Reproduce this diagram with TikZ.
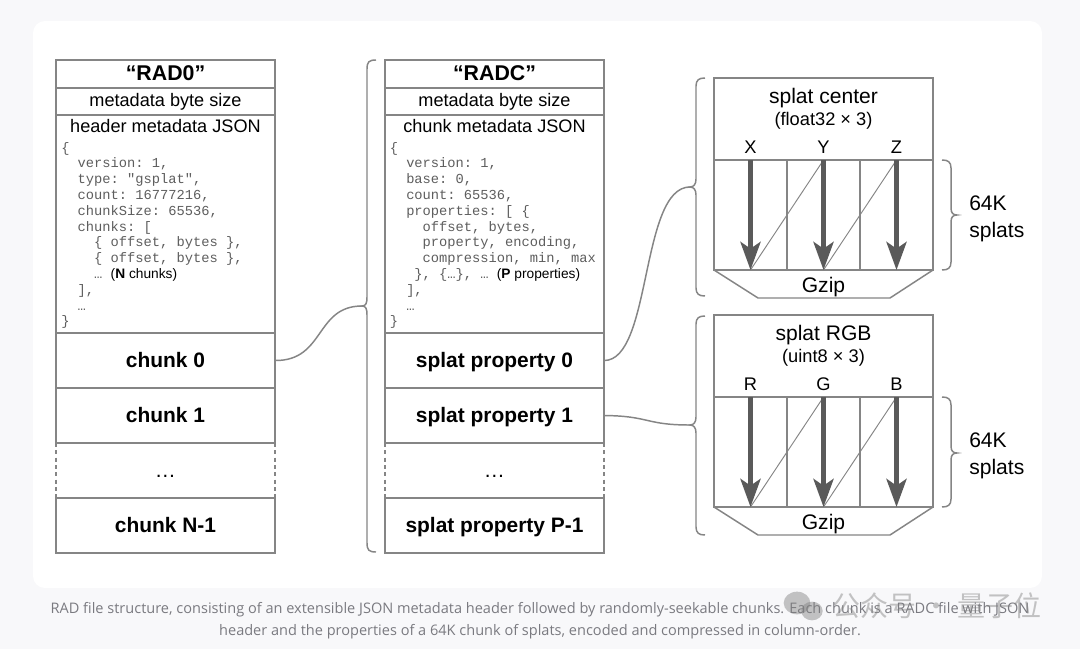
\documentclass[tikz,border=0pt]{standalone}
\usepackage{fontspec}
\setmainfont{Liberation Sans}
\setmonofont{Liberation Mono}
\newfontfamily\capfont{Open Sans}
\newfontfamily\cjkfont{Noto Sans CJK SC}
\usetikzlibrary{arrows.meta}
\definecolor{bgout}{HTML}{F8F8FA}
\definecolor{bordergray}{HTML}{858585}
\definecolor{arrowgray}{HTML}{5A5A5A}
\definecolor{monogray}{HTML}{5E5E5E}
\definecolor{capgray}{HTML}{7A7A80}
\newcommand\mytitlefont{\bfseries\fontsize{16pt}{19pt}\selectfont}
\newcommand\mylabfont{\fontsize{13.6pt}{16pt}\selectfont}
\newcommand\myrowfont{\bfseries\fontsize{15.7pt}{19pt}\selectfont}
\newcommand\myjson{\ttfamily\fontsize{10.3pt}{12pt}\selectfont}
\newcommand\myjsans{\rmfamily\fontsize{10.3pt}{12pt}\selectfont\color{black}}
\newcommand\mybigfont{\fontsize{15.8pt}{20.25pt}\selectfont}
\newcommand\mysubfont{\fontsize{13.7pt}{16pt}\selectfont}
\begin{document}
\begin{tikzpicture}[x=0.75pt,y=-0.75pt,
  boxline/.style={draw=bordergray, line width=1.1pt},
  row/.style={boxline, minimum width=164.25pt, inner sep=0pt, outer sep=0pt, anchor=north west, text height=11pt, text depth=1.2pt},
  plainrow/.style={minimum width=164.25pt, inner sep=0pt, outer sep=0pt, anchor=north west, text height=11pt, text depth=1.2pt},
  biglab/.style={inner sep=0pt, text height=11pt, text depth=1.2pt},
  smalllab/.style={inner sep=0pt, text height=9.5pt, text depth=1.3pt},
  json/.style={inner sep=0pt, font=\myjson, text=monogray, anchor=base west},
  diagline/.style={draw=bordergray, line width=0.7pt},
  colarrow/.style={draw=arrowgray, line width=3.6pt, -{Stealth[length=21pt,width=15pt,inset=5pt]}},
  captext/.style={inner sep=0pt, font=\capfont\fontsize{10.9pt}{13pt}\selectfont, text=capgray}
]
\fill[bgout] (0,0) rectangle (1080,649);
\useasboundingbox (0,0) rectangle (1080,649);
\fill[white, rounded corners=9pt] (33,21) rectangle (1042,588);

% ---------- left column (RAD0) ----------
\node[row, minimum height=21pt, font=\mytitlefont] (ltitle) at (56,60) {“RAD0”};
\node[row, minimum height=20.25pt, font=\mylabfont, text height=9.5pt, text depth=1.3pt] (lsize) at (56,88) {metadata byte size};
\node[row, minimum height=163.5pt] (ljson) at (56,115) {};
\node[smalllab, font=\mylabfont] (ljsonlab) at (165.5,127) {header metadata JSON};
\foreach \ind/\txt [count=\n] in {
 0/{\{},
 2/{version: 1,},
 2/{type: "gsplat",},
 2/{count: 16777216,},
 2/{chunkSize: 65536,},
 2/{chunks: [},
 4/{\{ offset, bytes \},},
 4/{\{ offset, bytes \},},
 4/{… {\myjsans(\textbf{N} chunks)}},
 2/{],},
 2/{…},
 0/{\}}}
 \node[json] (lj\n) at ({61+8.24*\ind}, {152+15.8*(\n-1)}) {\txt};
\node[row, minimum height=41.25pt, font=\myrowfont] (lc0) at (56,333) {chunk 0};
\node[row, minimum height=41.25pt, font=\myrowfont] (lc1) at (56,388) {chunk 1};
\node[plainrow, minimum height=41.25pt, font=\mybigfont] (ldots) at (56,443) {…};
\draw[boxline, dash pattern=on 3pt off 2.5pt] (ldots.north west) -- (ldots.south west);
\draw[boxline, dash pattern=on 3pt off 2.5pt] (ldots.north east) -- (ldots.south east);
\node[row, minimum height=41.25pt, font=\myrowfont] (lcN) at (56,498) {chunk N-1};

% ---------- middle column (RADC) ----------
\node[row, minimum height=21pt, font=\mytitlefont] (mtitle) at (385,60) {“RADC”};
\node[row, minimum height=20.25pt, font=\mylabfont, text height=9.5pt, text depth=1.3pt] (msize) at (385,88) {metadata byte size};
\node[row, minimum height=163.5pt] (mjson) at (385,115) {};
\node[smalllab, font=\mylabfont] (mjsonlab) at (494.5,127) {chunk metadata JSON};
\foreach \ind/\txt [count=\n] in {
 0/{\{},
 2/{version: 1,},
 2/{base: 0,},
 2/{count: 65536,},
 2/{properties: [ \{},
 4/{offset, bytes,},
 4/{property, encoding,},
 4/{compression, min, max},
 3/{\}, \{…\}, … {\myjsans(\textbf{P} properties)}},
 2/{],},
 2/{…},
 0/{\}}}
 \node[json] (mj\n) at ({389.5+8.24*\ind}, {152+15.8*(\n-1)}) {\txt};
\node[row, minimum height=41.25pt, font=\myrowfont] (mp0) at (385,333) {splat property 0};
\node[row, minimum height=41.25pt, font=\myrowfont] (mp1) at (385,388) {splat property 1};
\node[plainrow, minimum height=41.25pt, font=\mybigfont] (mdots) at (385,443) {…};
\draw[boxline, dash pattern=on 3pt off 2.5pt] (mdots.north west) -- (mdots.south west);
\draw[boxline, dash pattern=on 3pt off 2.5pt] (mdots.north east) -- (mdots.south east);
\node[row, minimum height=41.25pt, font=\myrowfont] (mpN) at (385,498) {splat property P-1};

% middle brace
\coordinate (mtip) at (362,306);
\draw[boxline] (376,60) .. controls (369,60) and (367,62) .. (367,69) -- (367,297)
  .. controls (367,303) and (366,306) .. (mtip)
  .. controls (366,306) and (367,309) .. (367,315) -- (367,543)
  .. controls (367,550) and (369,552) .. (376,552);

% ---------- right top box (splat center) ----------
\node[row, minimum height=61.5pt] (chdr) at (714,78) {};
\node[biglab, font=\mybigfont] (ctitle) at (823.5,97) {splat center};
\node[smalllab, font=\mysubfont] (csub) at (823.5,120) {(float32 × 3)};
\node[smalllab, font=\mysubfont] (cx) at (750.5,148) {X};
\node[smalllab, font=\mysubfont] (cy) at (823.5,148) {Y};
\node[smalllab, font=\mysubfont] (cz) at (896.5,148) {Z};
\node[row, minimum height=82.5pt] (ccols) at (714,160) {};
\draw[boxline] (787,160) -- (787,270);
\draw[boxline] (860,160) -- (860,270);
\draw[diagline] (750.5,270) -- (823.5,160);
\draw[diagline] (823.5,270) -- (896.5,160);
\draw[colarrow] (750.5,160) -- (750.5,270);
\draw[colarrow] (823.5,160) -- (823.5,270);
\draw[colarrow] (896.5,160) -- (896.5,270);
\draw[boxline] (ccols.south west) -- (758,298) -- (890,298) -- (ccols.south east);
\node[biglab, font=\mybigfont] (cgzip) at (823.5,286) {Gzip};
% braces
\coordinate (rtipA) at (690,187);
\draw[boxline] (705,78) .. controls (699,78) and (696,80) .. (696,86) -- (696,179)
  .. controls (696,184) and (694,187) .. (rtipA)
  .. controls (694,187) and (696,190) .. (696,195) -- (696,288)
  .. controls (696,294) and (699,296) .. (705,296);
\draw[boxline] (942,160) .. controls (948,160) and (951,162) .. (951,168) -- (951,208)
  .. controls (951,213) and (953,215) .. (957,215)
  .. controls (953,215) and (951,217) .. (951,222) -- (951,262)
  .. controls (951,268) and (948,270) .. (942,270);
\node[inner sep=0pt, font=\mybigfont, align=left, anchor=west] (csplats) at (969,219) {64K\\splats};

% ---------- right bottom box (splat RGB) ----------
\node[row, minimum height=61.5pt] (rhdr) at (714,315) {};
\node[biglab, font=\mybigfont] (rtitle) at (823.5,334) {splat RGB};
\node[smalllab, font=\mysubfont] (rsub) at (823.5,357) {(uint8 × 3)};
\node[smalllab, font=\mysubfont] (rr) at (750.5,385) {R};
\node[smalllab, font=\mysubfont] (rg) at (823.5,385) {G};
\node[smalllab, font=\mysubfont] (rb) at (896.5,385) {B};
\node[row, minimum height=82.5pt] (rcols) at (714,397) {};
\draw[boxline] (787,397) -- (787,507);
\draw[boxline] (860,397) -- (860,507);
\draw[diagline] (750.5,507) -- (823.5,397);
\draw[diagline] (823.5,507) -- (896.5,397);
\draw[colarrow] (750.5,397) -- (750.5,507);
\draw[colarrow] (823.5,397) -- (823.5,507);
\draw[colarrow] (896.5,397) -- (896.5,507);
\draw[boxline] (rcols.south west) -- (758,535) -- (890,535) -- (rcols.south east);
\node[biglab, font=\mybigfont] (rgzip) at (823.5,523) {Gzip};
\coordinate (rtipB) at (690,425);
\draw[boxline] (705,316) .. controls (699,316) and (696,318) .. (696,324) -- (696,417)
  .. controls (696,422) and (694,425) .. (rtipB)
  .. controls (694,425) and (696,428) .. (696,433) -- (696,527)
  .. controls (696,533) and (699,535) .. (705,535);
\draw[boxline] (942,397) .. controls (948,397) and (951,399) .. (951,405) -- (951,446)
  .. controls (951,451) and (953,453) .. (957,453)
  .. controls (953,453) and (951,455) .. (951,460) -- (951,499)
  .. controls (951,505) and (948,507) .. (942,507);
\node[inner sep=0pt, font=\mybigfont, align=left, anchor=west] (rsplats) at (969,456) {64K\\splats};

% ---------- connectors ----------
\draw[boxline] (lc0.east) .. controls (325,361) and (315,306) .. (mtip);
\draw[boxline] (mp0.east) .. controls (652,361) and (640,187) .. (rtipA);
\draw[boxline] (mp1.east) .. controls (650,416) and (645,425) .. (rtipB);

% ---------- caption ----------
\node[captext] (cap1) at (540,610) {RAD file structure, consisting of an extensible JSON metadata header followed by randomly-seekable chunks. Each chunk is a RADC file with JSON};
\node[captext] (cap2) at (540,632) {header and the properties of a 64K chunk of splats, encoded and compressed in column-order.};

% ---------- watermark ----------
\fill[gray, opacity=0.45] (797,603) ellipse (10pt and 8.5pt);
\fill[gray, opacity=0.45] (812,611) ellipse (8pt and 7pt);
\node[inner sep=0pt, font=\cjkfont\fontsize{21pt}{24pt}\selectfont, text=gray, opacity=0.45] (wm) at (937,606) {公众号 · 量子位};
\end{tikzpicture}
\end{document}
